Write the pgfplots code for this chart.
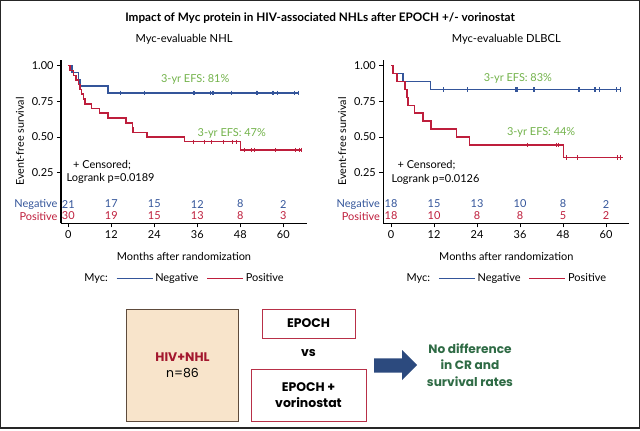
\documentclass[border=0pt]{standalone}
\usepackage{pgfplots}
\pgfplotsset{compat=1.18}
\usepackage{fontspec}
\setmainfont{Lato}
\newfontfamily\pop{Poppins}

\definecolor{negblue}{HTML}{34559A}
\definecolor{posred}{HTML}{BE1E3C}
\definecolor{efsgreen}{HTML}{72B24A}
\definecolor{darkgreen}{HTML}{2F6B45}
\definecolor{arrowblue}{HTML}{2C4A7E}
\definecolor{beige}{HTML}{F8E4CB}
\definecolor{boxbrown}{HTML}{5E4B3C}
\definecolor{boxred}{HTML}{B83048}
\definecolor{hivred}{HTML}{A3172E}

\newcommand{\fs}[1]{\fontsize{#1}{#1}\selectfont}

\pgfplotsset{
  km/.style={
    anchor=south west, scale only axis, width=246bp, height=163.3bp,
    xmin=-2.05, xmax=66.6, ymin=-0.105, ymax=1.04,
    axis x line*=bottom, axis y line*=left,
    axis line style={line width=1.4pt, -},
    tick align=outside, tick pos=left,
    every tick/.style={black, line width=0.9pt},
    major tick length=4bp,
    xtick={0,12,24,36,48,60}, ytick={0.25,0.5,0.75,1},
    /pgf/number format/assume math mode=true,
    yticklabel style={/pgf/number format/.cd, fixed, fixed zerofill, precision=2},
    ticklabel style={font=\fs{11}},
    xlabel={Months after randomization},
    ylabel={Event-free survival},
    xlabel style={at={(axis description cs:0.5,-0.202)}, anchor=center, font=\fs{11}},
    ylabel style={at={(axis description cs:-0.167,0.5)}, anchor=center, font=\fs{10.8}},
    title style={at={(axis description cs:0.5,1)}, anchor=center, yshift=15bp, font=\fs{11.2}},
    clip=false,
    legend style={at={(axis description cs:0.5,-0.337)}, anchor=center, draw=none, fill=none,
      legend columns=-1, font=\fs{11},
      /tikz/every even column/.append style={column sep=6bp}},
    legend image code/.code={\draw[#1] (0bp,0bp) -- (36bp,0bp);},
  },
  neg/.style={negblue, line width=1.5pt, const plot},
  pos/.style={posred, line width=1.5pt, const plot},
  cens/.style={only marks, mark=|, mark size=2.2bp, mark options={line width=0.8pt}},
  risk/.style={only marks, mark=none, point meta=explicit symbolic, nodes near coords,
    every node near coord/.append style={anchor=center, text=#1, font=\fs{11}}},
}

\begin{document}
\begin{tikzpicture}
\useasboundingbox (0,0) rectangle (640bp,-431bp);

% ---- left panel: Myc-evaluable NHL
\begin{axis}[km, at={(61bp,-223.3bp)}, title={Myc-evaluable NHL}]
\addlegendimage{empty legend}\addlegendentry{Myc:}
\addlegendimage{negblue, line width=1.5pt}\addlegendentry{Negative}
\addlegendimage{posred, line width=1.5pt}\addlegendentry{Positive}
\addplot[neg, forget plot] coordinates {(0,1) (1.0,0.952) (2.8,0.905) (3.3,0.857) (11.0,0.810) (64.5,0.810)};
\addplot[cens, negblue, forget plot] coordinates {(14.5,0.81) (21.3,0.81) (34.8,0.81) (35.0,0.81) (35.2,0.81) (39.7,0.81) (40.2,0.81) (40.5,0.81) (45.4,0.81) (52.4,0.81) (52.6,0.81) (52.8,0.81) (57.0,0.81) (57.3,0.81) (58.4,0.81) (63.0,0.81) (64.2,0.81)};
\addplot[pos, forget plot] coordinates {(0,1) (0.5,0.967) (1.4,0.933) (2.1,0.9) (2.8,0.867) (3.3,0.833) (3.7,0.8) (4.2,0.767) (4.7,0.733) (6.4,0.70) (8.7,0.667) (11.0,0.633) (16.1,0.6) (17.9,0.567) (18.1,0.533) (21.9,0.5) (32.4,0.467) (48.1,0.408) (65.3,0.408)};
\addplot[cens, posred, forget plot] coordinates {(34.9,0.467) (38.0,0.467) (39.8,0.467) (43.2,0.467) (45.9,0.467) (47.0,0.467) (49.1,0.408) (51.1,0.408) (51.9,0.408) (57.9,0.408) (63.3,0.408) (64.4,0.408) (65.0,0.408)};
\addplot[risk=negblue, forget plot] coordinates {(0,0.03)[21] (12,0.03)[17] (24,0.03)[15] (36,0.03)[12] (48,0.03)[8] (60,0.03)[2]};
\addplot[risk=posred, forget plot] coordinates {(0,-0.054)[30] (12,-0.054)[19] (24,-0.054)[15] (36,-0.054)[13] (48,-0.054)[8] (60,-0.054)[3]};
\node[text=efsgreen, font=\fs{11}] at (axis cs:35.4,0.90) {3-yr EFS: 81\%};
\node[text=efsgreen, font=\fs{11}] at (axis cs:45.6,0.527) {3-yr EFS: 47\%};
\node[font=\fs{11}] at (axis cs:9.4,0.304) {+ Censored;};
\node[font=\fs{11}] at (axis cs:11.8,0.206) {Logrank p=0.0189};
\node[anchor=east, text=negblue, font=\fs{11}] at (axis cs:-2.05,0.03) {Negative};
\node[anchor=east, text=posred, font=\fs{11}] at (axis cs:-2.05,-0.054) {Positive};
\end{axis}

% ---- right panel: Myc-evaluable DLBCL
\begin{axis}[km, at={(383.3bp,-223.3bp)}, xmin=-2.15, xmax=66.5, title={Myc-evaluable DLBCL}]
\addlegendimage{empty legend}\addlegendentry{Myc:}
\addlegendimage{negblue, line width=1.5pt}\addlegendentry{Negative}
\addlegendimage{posred, line width=1.5pt}\addlegendentry{Positive}
\addplot[neg, forget plot] coordinates {(0,1) (0.6,0.944) (3.4,0.889) (11.0,0.833) (64.2,0.833)};
\addplot[cens, negblue, forget plot] coordinates {(14.6,0.833) (21.3,0.833) (34.8,0.833) (35.0,0.833) (35.2,0.833) (39.6,0.833) (40.1,0.833) (52.3,0.833) (52.6,0.833) (56.8,0.833) (57.1,0.833) (58.2,0.833) (62.8,0.833) (64.0,0.833)};
\addplot[pos, forget plot] coordinates {(0,1) (0.5,0.944) (1.7,0.889) (3.9,0.833) (4.4,0.778) (4.8,0.722) (6.6,0.667) (8.9,0.611) (11.2,0.556) (18.3,0.5) (21.9,0.444) (48.1,0.355) (64.7,0.355)};
\addplot[cens, posred, forget plot] coordinates {(38.0,0.444) (46.1,0.444) (46.6,0.444) (48.9,0.355) (52.1,0.355) (63.2,0.355) (64.0,0.355)};
\addplot[risk=negblue, forget plot] coordinates {(0,0.03)[18] (12,0.03)[15] (24,0.03)[13] (36,0.03)[10] (48,0.03)[8] (60,0.03)[2]};
\addplot[risk=posred, forget plot] coordinates {(0,-0.054)[18] (12,-0.054)[10] (24,-0.054)[8] (36,-0.054)[8] (48,-0.054)[5] (60,-0.054)[2]};
\node[text=efsgreen, font=\fs{11}] at (axis cs:35.4,0.911) {3-yr EFS: 83\%};
\node[text=efsgreen, font=\fs{11}] at (axis cs:41.9,0.529) {3-yr EFS: 44\%};
\node[font=\fs{11}] at (axis cs:9.9,0.304) {+ Censored;};
\node[font=\fs{11}] at (axis cs:12.4,0.205) {Logrank p=0.0126};
\node[anchor=east, text=negblue, font=\fs{11}] at (axis cs:-2.15,0.03) {Negative};
\node[anchor=east, text=posred, font=\fs{11}] at (axis cs:-2.15,-0.054) {Positive};
\end{axis}

% ---- title, schematic and frame (pixel-like coordinates, y downwards)
\begin{scope}[x=1bp, y=-1bp]
\node[font=\bfseries\fs{11.8}] at (320,18) {Impact of Myc protein in HIV-associated NHLs after EPOCH +/- vorinostat};
\draw[boxbrown, fill=beige, line width=0.9pt] (126,309) rectangle (238,421);
\node[text=hivred, font=\pop\bfseries\fs{12.5}] at (182.5,357) {HIV+NHL};
\node[font=\pop\fs{12.5}] at (182.5,373) {n=86};
\draw[boxred, line width=0.9pt] (262,309) rectangle (355,338);
\node[font=\pop\bfseries\fs{12.5}] at (308.5,323.5) {EPOCH};
\node[font=\pop\bfseries\fs{12.5}] at (308.5,353) {vs};
\draw[boxred, line width=0.9pt] (251,369) rectangle (366,421);
\node[font=\pop\bfseries\fs{12.5}] at (308.5,387) {EPOCH +};
\node[font=\pop\bfseries\fs{12.5}] at (308.5,402.5) {vorinostat};
\fill[arrowblue] (374,358.3) -- (402,358.3) -- (402,350) -- (417,365) -- (402,380) -- (402,372.7) -- (374,372.7) -- cycle;
\node[text=darkgreen, font=\pop\bfseries\fontsize{12.2}{16.3}\selectfont, align=center] at (470,365) {No difference\\in CR and\\survival rates};
\draw[black!85, line width=0.9bp] (0.5,428.3) -- (0.5,0.5) -- (639.5,0.5) -- (639.5,428.3);
\draw[black!85, line width=1.8bp] (0,428.3) -- (640,428.3);
\end{scope}
\end{tikzpicture}
\end{document}
